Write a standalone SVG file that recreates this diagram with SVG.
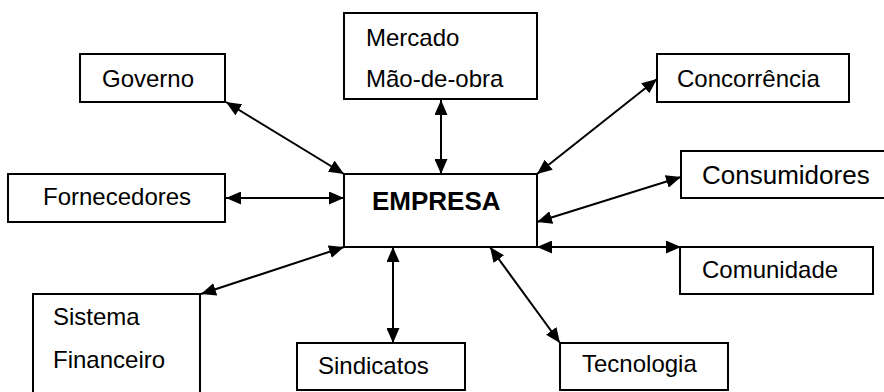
<svg xmlns="http://www.w3.org/2000/svg" width="884" height="392" viewBox="0 0 884 392">
<style>
.box{fill:#fff;stroke:#000;stroke-width:2}
.t{font-family:"Liberation Sans",Arial,sans-serif;font-size:24px;fill:#000}
.b{font-weight:bold;font-size:26px}
.c{stroke:#000;stroke-width:2;fill:none;marker-start:url(#ah);marker-end:url(#ah)}
</style>
<defs>
<marker id="ah" markerUnits="userSpaceOnUse" markerWidth="15" markerHeight="13" viewBox="0 0 15 13" refX="15" refY="6.5" orient="auto-start-reverse">
<path d="M0,0 L15,6.5 L0,13 z" fill="#000"/>
</marker>
</defs>
<rect width="884" height="392" fill="#fff"/>
<g id="connectors">
<line class="c" x1="226" y1="102" x2="344" y2="174"/>
<line class="c" x1="441" y1="100" x2="441" y2="174"/>
<line class="c" x1="537" y1="174" x2="657" y2="79"/>
<line class="c" x1="226" y1="198" x2="344" y2="198"/>
<line class="c" x1="201" y1="294" x2="344" y2="247"/>
<line class="c" x1="393" y1="247" x2="393" y2="343"/>
<line class="c" x1="490" y1="247" x2="560" y2="343"/>
<line class="c" x1="537" y1="222" x2="681" y2="177"/>
<line class="c" x1="537" y1="247" x2="681" y2="247"/>
</g>
<g id="governo"><rect class="box" x="80" y="54" width="145" height="48"/><text class="t" x="102" y="87">Governo</text></g>
<g id="mercado"><rect class="box" x="344" y="13" width="193" height="86"/><text class="t" x="366" y="46">Mercado</text><text class="t" x="366" y="87">Mão-de-obra</text></g>
<g id="concorrencia"><rect class="box" x="657" y="54" width="192" height="48"/><text class="t" x="677" y="87">Concorrência</text></g>
<g id="fornecedores"><rect class="box" x="8" y="174" width="217" height="48"/><text class="t" x="43" y="205">Fornecedores</text></g>
<g id="empresa"><rect class="box" x="344" y="174" width="193" height="73"/><text class="t b" x="372" y="210">EMPRESA</text></g>
<g id="consumidores"><rect class="box" x="681" y="151" width="220" height="47"/><text class="t" x="702" y="184" style="font-size:26px">Consumidores</text></g>
<g id="comunidade"><rect class="box" x="680" y="247" width="193" height="47"/><text class="t" x="702" y="278">Comunidade</text></g>
<g id="sistema"><rect class="box" x="33" y="294" width="167" height="110"/><text class="t" x="53" y="325">Sistema</text><text class="t" x="53" y="368">Financeiro</text></g>
<g id="sindicatos"><rect class="box" x="297" y="343" width="168" height="47"/><text class="t" x="318" y="374">Sindicatos</text></g>
<g id="tecnologia"><rect class="box" x="560" y="343" width="168" height="47"/><text class="t" x="582" y="372">Tecnologia</text></g>
</svg>
